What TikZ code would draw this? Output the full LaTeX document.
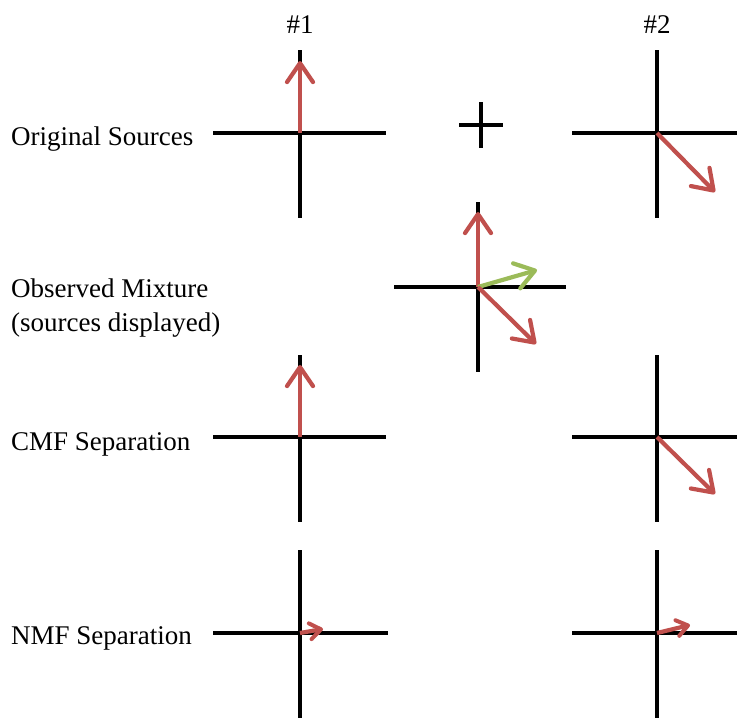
\documentclass[tikz,border=0pt]{standalone}
\usepackage{fontspec}
\setmainfont{Liberation Serif}
\usetikzlibrary{arrows.meta}
\definecolor{srcred}{RGB}{192,80,77}
\definecolor{srcgreen}{RGB}{155,187,89}
\begin{document}
\begin{tikzpicture}[x=1pt,y=-1pt,
  axis/.style={line width=4.6pt,black},
  vec/.style={line width=4.2pt,-{Straight Barb[length=19pt,width=26pt,line width=4.2pt,round]}},
  smallvec/.style={line width=4.2pt,-{Straight Barb[length=11pt,width=16pt,line width=4pt,round]}},
  lbl/.style={font=\fontsize{27}{32}\selectfont,anchor=base west,inner sep=0pt},
  hdr/.style={font=\fontsize{27}{32}\selectfont,anchor=base,inner sep=0pt}]
\useasboundingbox (0,0) rectangle (737,718);
% headers
\node[hdr] (h1) at (300,33) {\#1};
\node[hdr] (h2) at (657,33) {\#2};
% labels
\node[lbl] (l1) at (11,145) {Original Sources};
\node[lbl] (l2a) at (11,297) {Observed Mixture};
\node[lbl] (l2b) at (11,331) {(sources displayed)};
\node[lbl] (l3) at (11,450) {CMF Separation};
\node[lbl] (l4) at (11,644) {NMF Separation};
% centers
\coordinate (c11) at (300,133);
\coordinate (c12) at (657,133);
\coordinate (cm) at (478,287);
\coordinate (c31) at (300,437);
\coordinate (c32) at (657,437);
\coordinate (c41) at (300,633);
\coordinate (c42) at (657,633);
% axes
\foreach \c/\l/\r/\t/\b in {c11/87/86/83/85, c12/85/82/83/85, cm/84/88/85/85, c31/87/86/82/85, c32/85/82/82/85, c41/87/88/83/85, c42/85/82/83/85}{
  \draw[axis] ([xshift=-\l pt]\c) -- ([xshift=\r pt]\c);
  \draw[axis] ([yshift=\t pt]\c) -- ([yshift=-\b pt]\c);
}
% plus
\coordinate (plus) at (481,125);
\draw[line width=4pt] ([xshift=-22pt]plus) -- ([xshift=22pt]plus);
\draw[line width=4pt] ([yshift=23pt]plus) -- ([yshift=-23pt]plus);
% vectors
\coordinate (t11) at (300,61);
\coordinate (t12) at (715,192);
\coordinate (tm1) at (478,212);
\coordinate (tm2) at (537,270);
\coordinate (tm3) at (536,344);
\coordinate (t31) at (300,365);
\coordinate (t32) at (715,494);
\coordinate (t41) at (323,629);
\coordinate (t42) at (690,625);
\draw[vec,srcred] (c11) -- (t11);
\draw[vec,srcred] (c12) -- (t12);
\draw[vec,srcred] (cm) -- (tm1);
\draw[vec,srcgreen] (cm) -- (tm2);
\draw[vec,srcred] (cm) -- (tm3);
\draw[vec,srcred] (c31) -- (t31);
\draw[vec,srcred] (c32) -- (t32);
\draw[smallvec,srcred] (c41) -- (t41);
\draw[smallvec,srcred] (c42) -- (t42);
\end{tikzpicture}
\end{document}
